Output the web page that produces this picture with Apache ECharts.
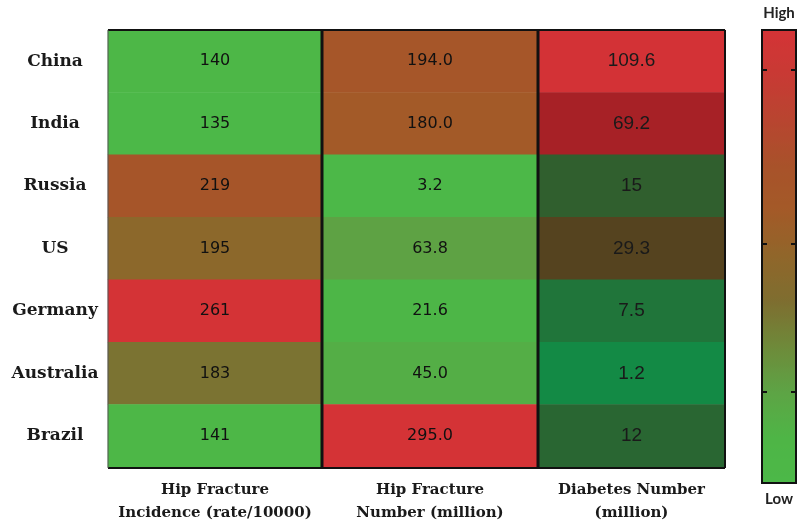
<!DOCTYPE html>
<html>
<head>
<meta charset="utf-8">
<script src="https://cdn.jsdelivr.net/npm/echarts@6/dist/echarts.min.js"></script>
<style>
html,body{margin:0;padding:0;background:#fff;}
#chart{width:800px;height:525px;}
</style>
</head>
<body>
<div id="chart"></div>
<script>
// ---- data ----
const countries = ['China', 'India', 'Russia', 'US', 'Germany', 'Australia', 'Brazil'];
const columnTitles = ['Hip Fracture\nIncidence (rate/10000)', 'Hip Fracture\nNumber (million)', 'Diabetes Number\n(million)'];
const incidence = [140, 135, 219, 195, 261, 183, 141];
const fractureNumber = [194.0, 180.0, 3.2, 63.8, 21.6, 45.0, 295.0];
const diabetesNumber = [109.6, 69.2, 15, 29.3, 7.5, 1.2, 12];
const legendText = ['High', 'Low'];

// ---- styles / layout ----
const GRID_TOP = 30, GRID_H = 438;
const cols = [{ left: 108, width: 214 }, { left: 322, width: 216 }, { left: 538, width: 187 }];
const colorsA = ['#4cb848', '#4eb546', '#5da445', '#6e8a3a', '#7e6e30', '#90662a', '#a35a28', '#a8522a', '#b84530', '#c83a34', '#d43336'];
const colorsB = ['#138a45', '#296632', '#444e24', '#613b1b', '#77321f', '#8d2922', '#a32025', '#b12229', '#bd272d', '#c82d32', '#d33236'];
const LEG = { left: 762, top: 30, w: 34, h: 453 };
const legTicks = [70, 244, 392];

const columns = [
  { values: incidence, colors: colorsA, fmt: v => String(v), font: { fontFamily: 'DejaVu Sans', fontSize: 16, fontWeight: 'normal', color: '#111' } },
  { values: fractureNumber, colors: colorsA, fmt: v => v.toFixed(1), font: { fontFamily: 'DejaVu Sans', fontSize: 16, fontWeight: 'normal', color: '#111' } },
  { values: diabetesNumber, colors: colorsB, fmt: v => String(v), font: { fontFamily: 'Liberation Sans', fontSize: 19, fontWeight: 'normal', color: '#1a1a1a' } }
];

const chart = echarts.init(document.getElementById('chart'), null, { renderer: 'canvas' });

const graphics = [];
const gRight = cols[2].left + cols[2].width;
const gBottom = GRID_TOP + GRID_H;
function line(x1, y1, x2, y2, w, c) {
  graphics.push({ type: 'line', z: 100, shape: { x1, y1, x2, y2 }, style: { stroke: c, lineWidth: w } });
}
line(cols[0].left, GRID_TOP, gRight, GRID_TOP, 2, '#111');
line(cols[0].left, gBottom, gRight, gBottom, 2, '#111');
line(cols[0].left, GRID_TOP, cols[0].left, gBottom, 1, '#555');
line(cols[1].left, GRID_TOP, cols[1].left, gBottom, 3, '#111');
line(cols[2].left, GRID_TOP, cols[2].left, gBottom, 3, '#111');
line(gRight, GRID_TOP, gRight, gBottom, 2, '#111');
// legend border + ticks
graphics.push({ type: 'rect', z: 100, shape: { x: LEG.left, y: LEG.top, width: LEG.w, height: LEG.h }, style: { fill: null, stroke: '#111', lineWidth: 2 } });
legTicks.forEach(y => {
  line(LEG.left, y, LEG.left + 5, y, 2, '#111');
  line(LEG.left + LEG.w - 5, y, LEG.left + LEG.w, y, 2, '#111');
});

const option = {
  animation: false,
  backgroundColor: '#fff',
  grid: cols.map(c => ({ left: c.left, width: c.width, top: GRID_TOP, height: GRID_H })),
  xAxis: columnTitles.map((t, i) => ({
    type: 'category', gridIndex: i, data: [t],
    axisLine: { show: false }, axisTick: { show: false }, splitLine: { show: false },
    axisLabel: { interval: 0, margin: 12, fontFamily: 'DejaVu Serif', fontWeight: 'bold', fontSize: 15, color: '#1a1a1a', lineHeight: 23 }
  })),
  yAxis: columnTitles.map((t, i) => ({
    type: 'category', gridIndex: i, data: countries, inverse: true,
    axisLine: { show: false }, axisTick: { show: false }, splitLine: { show: false },
    axisLabel: { show: i === 0, align: 'center', margin: 53, fontFamily: 'DejaVu Serif', fontWeight: 'bold', fontSize: 17, color: '#1a1a1a' }
  })),
  visualMap: columns.map((c, i) => ({
    type: 'continuous', seriesIndex: i,
    min: Math.min(...c.values), max: Math.max(...c.values),
    inRange: { color: c.colors },
    show: i === 0, calculable: false, hoverLink: false,
    orient: 'vertical', left: LEG.left, top: 6, padding: 0,
    itemWidth: LEG.w, itemHeight: LEG.h, textGap: 9,
    text: legendText,
    textStyle: { fontFamily: 'Lato', fontWeight: 'bold', fontSize: 15, color: '#222' }
  })),
  series: columns.map((c, i) => ({
    type: 'heatmap', xAxisIndex: i, yAxisIndex: i,
    data: c.values.map((v, r) => [0, r, v]),
    label: {
      show: true, formatter: p => c.fmt(p.value[2]),
      ...c.font
    },
    itemStyle: { borderWidth: 0 },
    emphasis: { disabled: true }
  })),
  graphic: graphics
};
chart.setOption(option);
</script>
</body>
</html>
